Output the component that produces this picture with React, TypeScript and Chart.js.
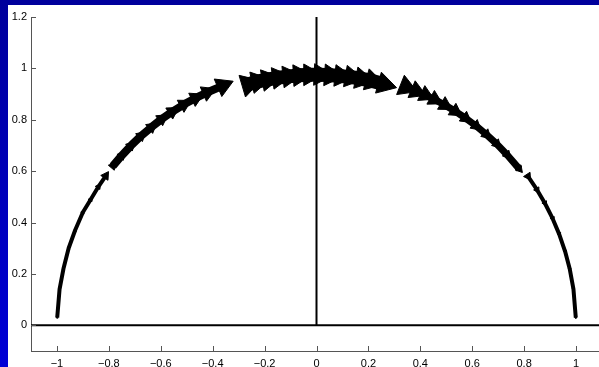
import { useEffect, useRef } from "react";
import { Chart, registerables } from "chart.js";

Chart.register(...registerables);

// Axis ticks
const xTicks = [-1, -0.8, -0.6, -0.4, -0.2, 0, 0.2, 0.4, 0.6, 0.8, 1];
const yTicks = [0, 0.2, 0.4, 0.6, 0.8, 1, 1.2];

// Trajectory segments (points along the arc) with arrow sizes
const seg1X = [-0.999, -0.99, -0.975, -0.955, -0.93, -0.9, -0.87, -0.84, -0.812];
const seg1Y = [0.03, 0.14, 0.22, 0.3, 0.37, 0.44, 0.49, 0.54, 0.582];
const seg1Size = [1, 1.2, 1.4, 1.6, 1.8, 2.2, 2.6, 3.2, 5];

const seg2X = [-0.785, -0.75, -0.715, -0.675, -0.635, -0.595, -0.555, -0.51, -0.465, -0.42, -0.36];
const seg2Y = [0.62, 0.661, 0.699, 0.738, 0.772, 0.804, 0.832, 0.86, 0.885, 0.907, 0.933];
const seg2Size = [4.5, 5, 5.5, 6, 6.5, 7, 7.5, 8, 8.5, 9, 11];

const seg3X = [-0.262, -0.225, -0.185, -0.145, -0.105, -0.065, -0.025, 0.015, 0.055, 0.095, 0.135, 0.175, 0.215, 0.262];
const seg3Y = [0.938, 0.949, 0.957, 0.964, 0.969, 0.973, 0.975, 0.975, 0.973, 0.97, 0.966, 0.959, 0.951, 0.938];
const seg3Size = [13, 12.5, 12.5, 12.5, 12.5, 12.5, 12.5, 12.5, 12.5, 12.5, 12.5, 12.5, 12.5, 12.5];

const seg4X = [0.345, 0.385, 0.42, 0.455, 0.495, 0.535, 0.575, 0.615, 0.655, 0.695, 0.735, 0.782];
const seg4Y = [0.927, 0.911, 0.896, 0.879, 0.857, 0.833, 0.806, 0.776, 0.742, 0.705, 0.663, 0.608];
const seg4Size = [12, 10.5, 9.5, 9, 8.5, 8, 7, 6.5, 6, 5.5, 5, 4.5];

const seg5X = [0.815, 0.85, 0.88, 0.91, 0.935, 0.958, 0.976, 0.99, 0.999];
const seg5Y = [0.58, 0.527, 0.475, 0.415, 0.355, 0.287, 0.218, 0.141, 0.03];
const seg5Size = [4.5, 3.5, 3, 2.6, 2.2, 1.9, 1.6, 1.4, 1.2];

const lineWidths = [4, 8, 14, 7, 4];

function headings(xs: number[], ys: number[]): number[] {
  return xs.map((_, i) => {
    const a = i < xs.length - 1 ? i : i - 1;
    const dx = xs[a + 1] - xs[a];
    const dy = ys[a + 1] - ys[a];
    return (Math.atan2(dx, dy) * 180) / Math.PI;
  });
}

const fmt = (v: number) => String(v).replace("-", "\u2212");

export default function App() {
  const ref = useRef<HTMLCanvasElement>(null);

  useEffect(() => {
    if (!ref.current) return;
    const segs: [number[], number[], number[]][] = [
      [seg1X, seg1Y, seg1Size],
      [seg2X, seg2Y, seg2Size],
      [seg3X, seg3Y, seg3Size],
      [seg4X, seg4Y, seg4Size],
      [seg5X, seg5Y, seg5Size],
    ];
    const arrowSets = segs.map(([xs, ys, sz], k) => ({
      type: "scatter" as const,
      data: xs.map((x, i) => ({ x, y: ys[i] })),
      showLine: true,
      borderColor: "#000",
      backgroundColor: "#000",
      borderWidth: lineWidths[k],
      borderCapStyle: "butt" as const,
      borderJoinStyle: "round" as const,
      pointStyle: "triangle" as const,
      pointRadius: sz,
      pointRotation: headings(xs, ys),
      pointBorderWidth: 1,
      pointBorderColor: "#000",
      pointBackgroundColor: "#000",
    }));
    const zeroLines = [
      {
        type: "scatter" as const,
        data: [
          { x: -1.1, y: 0 },
          { x: 1.1, y: 0 },
        ],
        showLine: true,
        borderColor: "#000",
        borderWidth: 2,
        pointRadius: 0,
      },
      {
        type: "scatter" as const,
        data: [
          { x: 0, y: 0 },
          { x: 0, y: 1.2 },
        ],
        showLine: true,
        borderColor: "#000",
        borderWidth: 2,
        pointRadius: 0,
      },
    ];

    const font = { family: "'Liberation Sans', Arial, sans-serif", size: 11 };

    const innerTicks = {
      id: "innerTicks",
      afterDraw(chart: any) {
        const ctx = chart.ctx;
        const xs = chart.scales.x;
        const ys = chart.scales.y;
        const area = chart.chartArea;
        ctx.save();
        ctx.strokeStyle = "#555";
        ctx.lineWidth = 1;
        ctx.beginPath();
        xTicks.forEach((v) => {
          const p = Math.round(xs.getPixelForValue(v)) + 0.5;
          ctx.moveTo(p, area.bottom);
          ctx.lineTo(p, area.bottom - 5);
        });
        yTicks.forEach((v) => {
          const p = Math.round(ys.getPixelForValue(v)) + 0.5;
          ctx.moveTo(area.left, p);
          ctx.lineTo(area.left + 5, p);
        });
        ctx.stroke();
        ctx.restore();
      },
    };

    const chart = new Chart(ref.current, {
      type: "scatter",
      data: { datasets: [...zeroLines, ...arrowSets] as any },
      options: {
        animation: false,
        responsive: false,
        events: [],
        layout: { autoPadding: false, padding: { top: 12, right: 2, left: 0, bottom: 0 } },
        plugins: { legend: { display: false }, tooltip: { enabled: false } },
        scales: {
          x: {
            type: "linear",
            min: -1.1,
            max: 1.1,
            grid: { display: false, drawTicks: false },
            border: { color: "#555", width: 1 },
            ticks: {
              font,
              color: "#000",
              padding: 6,
              autoSkip: false,
              maxRotation: 0,
              callback: (v: any) => fmt(Number(v)),
            },
            afterBuildTicks: (s: any) => {
              s.ticks = xTicks.map((value) => ({ value }));
            },
            afterFit: (s: any) => {
              s.height = 16;
            },
          },
          y: {
            type: "linear",
            min: -0.1,
            max: 1.2,
            grid: { display: false, drawTicks: false },
            border: { color: "#555", width: 1 },
            ticks: {
              font,
              color: "#000",
              padding: 4,
              autoSkip: false,
              callback: (v: any) => fmt(Number(v)),
            },
            afterBuildTicks: (s: any) => {
              s.ticks = yTicks.map((value) => ({ value }));
            },
            afterFit: (s: any) => {
              s.width = 23;
            },
          },
        },
      },
      plugins: [innerTicks],
    });
    return () => chart.destroy();
  }, []);

  return (
    <div
      style={{
        position: "fixed",
        left: 0,
        top: 0,
        width: "100vw",
        height: "100vh",
        overflow: "hidden",
        background: "linear-gradient(to bottom, #00009c, #0000d6)",
      }}
    >
      <div
        style={{
          position: "absolute",
          left: 8,
          top: 5,
          width: 600,
          height: 370,
          background: "#fff",
        }}
      />
      <canvas
        ref={ref}
        width={596}
        height={362}
        style={{ position: "absolute", left: 8, top: 5, width: 596, height: 362 }}
      />
    </div>
  );
}
